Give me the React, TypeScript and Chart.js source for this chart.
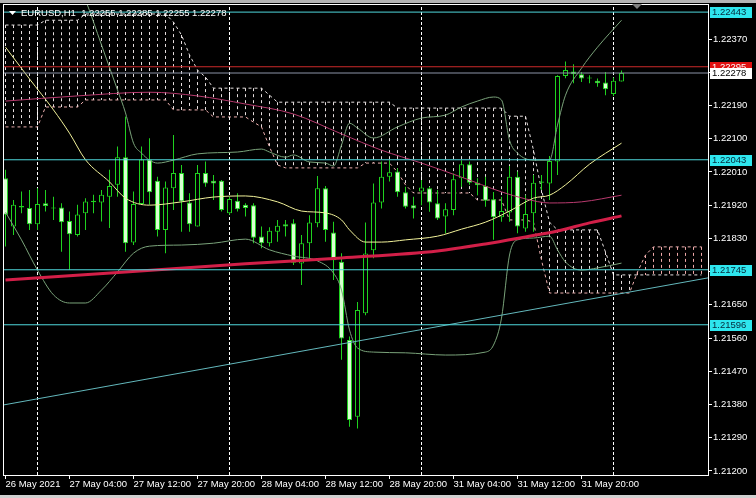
import React, { useEffect, useRef } from "react";
import { Chart, registerables } from "chart.js";

Chart.register(...registerables);

const FONT = "'Liberation Sans', Arial, sans-serif";

// ---- axes ----
// bar index 0 = 26 May 2021 20:00 (H1 bars)
const xTickIndex = [0, 8, 16, 24, 32, 40, 48, 56, 64, 72];
const xTickLabels = [
  "26 May 2021", "27 May 04:00", "27 May 12:00", "27 May 20:00", "28 May 04:00",
  "28 May 12:00", "28 May 20:00", "31 May 04:00", "31 May 12:00", "31 May 20:00",
];
const yTickValues = [
  1.212, 1.2129, 1.2138, 1.2147, 1.2156, 1.2165, 1.2174, 1.2183, 1.2192, 1.2201,
  1.221, 1.2219, 1.2228, 1.2237,
];
const X_MIN = -0.1875;
const X_MAX = 87.8125;
const Y_MIN = 1.21189;
const Y_MAX = 1.22465;

// ---- candles ----
const opens = [
  1.21993, 1.21862, 1.21914, 1.21912, 1.21868, 1.21925, 1.21914, 1.21914, 1.21877, 1.21839,
  1.21898, 1.21928, 1.21927, 1.21943, 1.21975, 1.2205, 1.21819, 1.21923, 1.22044, 1.21986,
  1.21853, 1.21966, 1.22007, 1.21927, 1.21862, 1.22007, 1.21986, 1.21986, 1.21898, 1.21932,
  1.21921, 1.2192, 1.21835, 1.21817, 1.21848, 1.21868, 1.21871, 1.21762, 1.21817, 1.21871,
  1.21966, 1.21846, 1.21767, 1.21555, 1.21347, 1.21627, 1.21798, 1.21927, 1.21997, 1.22011,
  1.21955, 1.2192, 1.21957, 1.21966, 1.21925, 1.21889, 1.21907, 1.21993, 1.22031, 1.21981,
  1.21972, 1.21936, 1.21887, 1.219, 1.21997, 1.21857, 1.21898, 1.21981, 1.21979, 1.22038,
  1.2227, 1.22282, 1.22275, 1.22264, 1.22257, 1.22252, 1.22221, 1.22255,
];
const highs = [
  1.22016, 1.21934, 1.21957, 1.21961, 1.21966, 1.21961, 1.21943, 1.21925, 1.21903, 1.21921,
  1.21939, 1.21948, 1.21961, 1.22016, 1.22079, 1.2216, 1.21957, 1.22079, 1.22101, 1.21997,
  1.21984, 1.2211, 1.22029, 1.21952, 1.22029, 1.22038, 1.22002, 1.21988, 1.21943, 1.21952,
  1.21925, 1.21925, 1.21862, 1.2186, 1.2188, 1.2188, 1.21882, 1.21839, 1.21893, 1.21999,
  1.21972, 1.21875, 1.2179, 1.21564, 1.21658, 1.21873, 1.21979, 1.22038, 1.22042, 1.2202,
  1.2197, 1.21943, 1.21988, 1.2197, 1.21961, 1.21925, 1.22006, 1.22042, 1.22038, 1.21993,
  1.21997, 1.21956, 1.21943, 1.22026, 1.22011, 1.21947, 1.22002, 1.22002, 1.22053, 1.22272,
  1.22309, 1.22302, 1.22281, 1.22272, 1.22263, 1.22281, 1.22266, 1.22285,
];
const lows = [
  1.21808, 1.21839, 1.21898, 1.21853, 1.21853, 1.21903, 1.2188, 1.21794, 1.21745, 1.21835,
  1.21853, 1.21898, 1.21876, 1.21858, 1.21943, 1.21794, 1.21812, 1.21921, 1.21921, 1.21835,
  1.2179, 1.21907, 1.21848, 1.21848, 1.21862, 1.2197, 1.21934, 1.21903, 1.21894, 1.21903,
  1.21889, 1.21817, 1.21803, 1.21808, 1.21821, 1.21835, 1.21758, 1.21704, 1.21771, 1.2186,
  1.21821, 1.21717, 1.21501, 1.2132, 1.21315, 1.21622, 1.21776, 1.21911, 1.21984, 1.21943,
  1.21911, 1.21884, 1.2192, 1.21902, 1.2188, 1.21844, 1.21893, 1.2197, 1.21975, 1.21947,
  1.21916, 1.21826, 1.21875, 1.21875, 1.21844, 1.21848, 1.21848, 1.21961, 1.21934, 1.22002,
  1.22264, 1.2225, 1.22254, 1.2225, 1.22241, 1.22218, 1.22216, 1.22255,
];
const closes = [
  1.21894, 1.21921, 1.21918, 1.21868, 1.21923, 1.21918, 1.21911, 1.21874, 1.21841, 1.21895,
  1.2193, 1.21932, 1.21948, 1.21972, 1.2205, 1.21817, 1.21923, 1.22044, 1.21955, 1.21853,
  1.21968, 1.22007, 1.2193, 1.21868, 1.22007, 1.21979, 1.21979, 1.21907, 1.21937, 1.21909,
  1.21912, 1.21832, 1.21817, 1.21851, 1.21864, 1.21862, 1.21764, 1.21817, 1.21873, 1.21966,
  1.21853, 1.21771, 1.21559, 1.21338, 1.21636, 1.21789, 1.21927, 1.21997, 1.22009, 1.21955,
  1.21916, 1.21911, 1.21968, 1.21927, 1.21884, 1.21909, 1.2199, 1.22031, 1.21981, 1.21974,
  1.21932, 1.21887, 1.21904, 1.21997, 1.21862, 1.21896, 1.21981, 1.21984, 1.2204, 1.2227,
  1.22286, 1.22275, 1.22263, 1.22263, 1.2225, 1.22234, 1.22257, 1.22278,
];

// ---- Bollinger bands (read at sample bars) ----
const bbUpperIdx = [0, 4, 8, 10, 12, 14, 15, 16, 17, 18, 19, 21, 24, 29, 32, 33, 35, 36, 38, 40, 41, 42, 43, 44, 46, 49, 52, 55, 57, 59, 61, 62, 63, 64, 66, 68, 69, 70, 72, 74, 77];
const bbUpperVal = [1.22795, 1.22692, 1.22576, 1.22476, 1.22354, 1.22232, 1.2217, 1.22088, 1.22061, 1.22042, 1.22034, 1.22042, 1.22059, 1.22064, 1.22072, 1.22064, 1.2205, 1.22056, 1.22037, 1.22034, 1.22026, 1.22083, 1.22142, 1.22129, 1.22102, 1.22132, 1.22156, 1.22164, 1.22186, 1.22202, 1.22213, 1.22205, 1.22096, 1.22061, 1.22042, 1.22042, 1.22137, 1.22218, 1.22291, 1.22348, 1.22421];
const bbLowerIdx = [0, 2, 4, 6, 8, 10, 12, 14, 16, 18, 22, 26, 30, 33, 36, 39, 41, 42, 43, 44, 46, 50, 55, 60, 61, 62, 63, 64, 66, 68, 69, 70, 72, 74, 77];
const bbLowerVal = [1.21901, 1.21826, 1.21744, 1.21677, 1.21655, 1.21655, 1.2169, 1.21739, 1.2179, 1.21809, 1.21812, 1.21817, 1.21828, 1.21799, 1.21782, 1.21769, 1.21736, 1.2169, 1.21582, 1.21533, 1.21522, 1.2152, 1.21514, 1.21522, 1.21541, 1.21614, 1.21785, 1.21826, 1.21831, 1.21836, 1.21799, 1.21766, 1.21744, 1.2175, 1.21763];
const bbMidIdx = [0, 3, 6, 8, 10, 13, 15, 18, 22, 26, 30, 34, 37, 40, 42, 43, 45, 47, 50, 54, 57, 60, 63, 66, 68, 70, 73, 77];
const bbMidVal = [1.22348, 1.22262, 1.22178, 1.22115, 1.22043, 1.21983, 1.21939, 1.2192, 1.21929, 1.21942, 1.21945, 1.21929, 1.21904, 1.21899, 1.2188, 1.21853, 1.2182, 1.2182, 1.21826, 1.21836, 1.21855, 1.21874, 1.21904, 1.21939, 1.21947, 1.21975, 1.22031, 1.22088];

// ---- moving averages ----
const maSlowIdx = [0, 9, 18, 24, 30, 36, 42, 47, 52, 57, 62, 65, 68, 72, 77];
const maSlowVal = [1.22202, 1.22216, 1.22226, 1.22216, 1.22194, 1.22167, 1.22113, 1.22069, 1.22034, 1.21996, 1.21956, 1.21937, 1.21926, 1.21929, 1.21947];
const maLongIdx = [0, 15, 30, 42, 54, 60, 65, 69, 73, 77];
const maLongVal = [1.21717, 1.21739, 1.21761, 1.21777, 1.21796, 1.21815, 1.21834, 1.2185, 1.21872, 1.21891];

// ---- Ichimoku cloud (Senkou spans, one value per bar incl. 26-bar forward shift) ----
const spanA = [
  1.22132, 1.22132, 1.22132, 1.22132, 1.22132, 1.22186, 1.22186, 1.22186, 1.22186, 1.22186,
  1.22205, 1.22205, 1.22205, 1.22205, 1.22205, 1.22205, 1.22205, 1.22205, 1.22205, 1.22205,
  1.22205, 1.22178, 1.22178, 1.22178, 1.22178, 1.22178, 1.22159, 1.22159, 1.22159, 1.22159,
  1.22159, 1.22145, 1.22132, 1.22078, 1.22029, 1.22021, 1.22021, 1.22021, 1.22021, 1.22021,
  1.22021, 1.22021, 1.22021, 1.22021, 1.22021, 1.22034, 1.22034, 1.22034, 1.22034, 1.2201,
  1.21975, 1.21953, 1.21953, 1.21953, 1.21953, 1.21953, 1.21953, 1.21953, 1.21953, 1.21934,
  1.21934, 1.21934, 1.21934, 1.2188, 1.2188, 1.2188, 1.21874, 1.21771, 1.21682, 1.21682,
  1.21682, 1.21682, 1.21682, 1.21682, 1.21682, 1.21682, 1.21682, 1.21682, 1.21682, 1.21739,
  1.21785, 1.21807, 1.21807, 1.21807, 1.21807, 1.21807, 1.21807, 1.21807,
];
const spanB = [
  1.22408, 1.22408, 1.22408, 1.22408, 1.22408, 1.22421, 1.22421, 1.22421, 1.22421, 1.22421,
  1.22438, 1.22438, 1.22438, 1.22438, 1.22438, 1.22438, 1.22438, 1.22438, 1.22438, 1.22438,
  1.22438, 1.22416, 1.22381, 1.22327, 1.22286, 1.22267, 1.22237, 1.22237, 1.22237, 1.22237,
  1.22237, 1.22237, 1.22237, 1.22218, 1.22199, 1.22199, 1.22199, 1.22199, 1.22199, 1.22199,
  1.22199, 1.22199, 1.22199, 1.22199, 1.22199, 1.22199, 1.22199, 1.22199, 1.22199, 1.22183,
  1.22183, 1.22183, 1.22183, 1.22183, 1.22183, 1.22183, 1.22183, 1.22183, 1.22183, 1.22183,
  1.22183, 1.22183, 1.22183, 1.22161, 1.22161, 1.22161, 1.22069, 1.21961, 1.21874, 1.21853,
  1.21853, 1.21853, 1.21853, 1.21853, 1.21853, 1.21793, 1.21731, 1.21731, 1.21731, 1.21731,
  1.21731, 1.21731, 1.21731, 1.21731, 1.21731, 1.21731, 1.21731, 1.21731,
];

// ---- objects ----
const separatorIdx = [4, 28, 52, 76];
const levelValues = [1.22443, 1.22043, 1.21745, 1.21596];
const redLevel = 1.22295;
const bidPrice = 1.22278;
const trendIdx = [X_MIN, X_MAX];
const trendVal = [1.21379, 1.21723];
const titleText = "EURUSD,H1  1.22255 1.22285 1.22255 1.22278";

// ---- colours ----
const CANDLE = "#1fd11f";
const BULL_FILL = "#000000";
const BEAR_FILL = "#d8ffd0";
const BB_COLOR = "#7aa37a";
const MID_COLOR = "#f2f29a";
const MA_SLOW_COLOR = "#b83a6e";
const MA_LONG_COLOR = "#d21f48";
const LEVEL_COLOR = "#4fd8dc";
const LEVEL_LABEL = "#2ee6ee";
const TREND_COLOR = "#63b8bc";
const RED_COLOR = "#cc2a2a";
const BID_COLOR = "#8c94a8";
const CLOUD_BEAR = "#e6dede";
const CLOUD_BULL = "#eea8a8";

const lineDs = (xs: number[], ys: number[], color: string, width: number, extra: any = {}) => ({
  type: "line",
  data: xs.map((x, k) => ({ x, y: ys[k] })),
  borderColor: color,
  backgroundColor: color,
  borderWidth: width,
  pointRadius: 0,
  fill: false,
  tension: 0,
  ...extra,
});

const mt4Plugin = {
  id: "mt4",
  beforeDatasetsDraw(chart: any) {
    const { ctx, chartArea: a, scales } = chart;
    const xs = scales.x;
    const ys = scales.y;
    ctx.save();
    ctx.beginPath();
    ctx.rect(a.left, a.top, a.right - a.left, a.bottom - a.top);
    ctx.clip();
    ctx.lineWidth = 1;
    ctx.setLineDash([3, 3]);
    for (let i = 0; i < spanA.length; i++) {
      const px = xs.getPixelForValue(i);
      const ya = ys.getPixelForValue(spanA[i]);
      const yb = ys.getPixelForValue(spanB[i]);
      ctx.strokeStyle = spanA[i] >= spanB[i] ? CLOUD_BULL : CLOUD_BEAR;
      ctx.beginPath();
      ctx.moveTo(px, Math.min(ya, yb));
      ctx.lineTo(px, Math.max(ya, yb));
      ctx.stroke();
    }
    ctx.restore();
  },
  afterDraw(chart: any) {
    const { ctx, scales } = chart;
    const ys = scales.y;
    ctx.save();
    // window bands
    ctx.fillStyle = "#b4b4b4";
    ctx.fillRect(0, 0, 756, 3);
    ctx.fillStyle = "#d0d0d0";
    ctx.fillRect(0, 495, 756, 3);
    // frame
    ctx.strokeStyle = "#ffffff";
    ctx.lineWidth = 1;
    ctx.setLineDash([]);
    ctx.strokeRect(3.5, 4.5, 705, 471);
    // price labels
    ctx.font = `9.5px ${FONT}`;
    ctx.textBaseline = "middle";
    ctx.textAlign = "left";
    const label = (v: number, bg: string, fg: string) => {
      const py = ys.getPixelForValue(v);
      ctx.fillStyle = bg;
      ctx.fillRect(710, Math.round(py) - 5, 42, 11);
      ctx.fillStyle = fg;
      ctx.fillText(v.toFixed(5), 712, py + 0.5);
    };
    levelValues.forEach((v) => label(v, LEVEL_LABEL, "#06283a"));
    label(redLevel, "#e01010", "#ffffff");
    label(bidPrice, "#ffffff", "#000000");
    // chart shift marker
    ctx.fillStyle = "#808080";
    ctx.beginPath();
    ctx.moveTo(632, 4);
    ctx.lineTo(642, 4);
    ctx.lineTo(637, 9);
    ctx.closePath();
    ctx.fill();
    // title
    ctx.fillStyle = "#ffffff";
    ctx.beginPath();
    ctx.moveTo(9, 11);
    ctx.lineTo(16, 11);
    ctx.lineTo(12.5, 15);
    ctx.closePath();
    ctx.fill();
    ctx.fillText(titleText, 21, 13);
    ctx.restore();
  },
};

export default function App() {
  const ref = useRef<HTMLCanvasElement>(null);
  useEffect(() => {
    document.body.style.margin = "0";
    document.body.style.background = "#000";
    const canvas = ref.current;
    if (!canvas) return;
    const idx = opens.map((_, i) => i);
    const wickData = idx.map((i) => ({ x: i, y: [lows[i], highs[i]] }));
    const bodyData = idx.map((i) => ({ x: i, y: [opens[i], closes[i]] }));
    const bodyFill = idx.map((i) => (closes[i] >= opens[i] ? BULL_FILL : BEAR_FILL));
    const smooth = { cubicInterpolationMode: "monotone" };

    const datasets: any[] = [
      // objects on top
      lineDs([X_MIN, X_MAX], [bidPrice, bidPrice], BID_COLOR, 1, { order: 1 }),
      lineDs([X_MIN, X_MAX], [redLevel, redLevel], RED_COLOR, 1, { order: 1 }),
      ...levelValues.map((v) => lineDs([X_MIN, X_MAX], [v, v], LEVEL_COLOR, 1, { order: 1 })),
      lineDs(trendIdx, trendVal, TREND_COLOR, 1, { order: 1 }),
      // indicators
      lineDs(maLongIdx, maLongVal, MA_LONG_COLOR, 3, { order: 2, ...smooth }),
      lineDs(maSlowIdx, maSlowVal, MA_SLOW_COLOR, 1, { order: 2, ...smooth }),
      lineDs(bbMidIdx, bbMidVal, MID_COLOR, 1, { order: 2, ...smooth }),
      lineDs(bbUpperIdx, bbUpperVal, BB_COLOR, 1, { order: 2, ...smooth }),
      lineDs(bbLowerIdx, bbLowerVal, BB_COLOR, 1, { order: 2, ...smooth }),
      // candles
      {
        type: "bar",
        data: bodyData,
        backgroundColor: bodyFill,
        borderColor: CANDLE,
        borderWidth: 1,
        borderSkipped: false,
        grouped: false,
        maxBarThickness: 5,
        minBarLength: 1,
        order: 3,
      },
      {
        type: "bar",
        data: wickData,
        backgroundColor: CANDLE,
        borderWidth: 0,
        grouped: false,
        maxBarThickness: 1,
        order: 4,
      },
      // period separators
      ...separatorIdx.map((s) =>
        lineDs([s, s], [Y_MIN, Y_MAX], "#ffffff", 1, { order: 5, borderDash: [3, 2] })
      ),
      // cloud borders
      lineDs(idx.concat([78, 79, 80, 81, 82, 83, 84, 85, 86, 87]), spanB, "#e6e0e0", 1, { order: 6, borderDash: [3, 3] }),
      lineDs(idx.concat([78, 79, 80, 81, 82, 83, 84, 85, 86, 87]), spanA, "#eeb0b0", 1, { order: 6, borderDash: [3, 3] }),
    ];

    Chart.defaults.font.family = FONT;
    Chart.defaults.font.size = 9.5;
    Chart.defaults.color = "#ffffff";

    const chart = new Chart(canvas, {
      type: "bar",
      data: { datasets },
      options: {
        animation: false,
        responsive: false,
        maintainAspectRatio: false,
        devicePixelRatio: 1,
        events: [],
        layout: { padding: { left: 4, top: 4, right: 0, bottom: 0 } },
        plugins: { legend: { display: false }, tooltip: { enabled: false } },
        scales: {
          x: {
            type: "linear",
            min: X_MIN,
            max: X_MAX,
            offset: false,
            afterBuildTicks: (s: any) => {
              s.ticks = xTickIndex.map((v) => ({ value: v }));
            },
            afterFit: (s: any) => {
              s.height = 23;
              s.paddingLeft = 0;
              s.paddingRight = 0;
            },
            grid: { drawOnChartArea: false, drawTicks: true, tickLength: 4, color: "#ffffff", offset: false },
            border: { display: false },
            ticks: {
              color: "#ffffff",
              align: "start",
              maxRotation: 0,
              minRotation: 0,
              autoSkip: false,
              padding: 0,
              font: { size: 9.5, family: FONT },
              callback: (v: any) => {
                const k = xTickIndex.indexOf(Math.round(Number(v)));
                return k >= 0 ? xTickLabels[k] : "";
              },
            },
          },
          y: {
            type: "linear",
            position: "right",
            min: Y_MIN,
            max: Y_MAX,
            afterBuildTicks: (s: any) => {
              s.ticks = yTickValues.map((v) => ({ value: v }));
            },
            afterFit: (s: any) => {
              s.width = 48;
              s.paddingTop = 0;
              s.paddingBottom = 0;
            },
            grid: { drawOnChartArea: false, drawTicks: true, tickLength: 4, color: "#ffffff" },
            border: { display: false },
            ticks: {
              color: "#ffffff",
              padding: 1,
              font: { size: 9.5, family: FONT },
              callback: (v: any) => Number(v).toFixed(5),
            },
          },
        },
      } as any,
      plugins: [mt4Plugin],
    } as any);
    return () => chart.destroy();
  }, []);

  return (
    <div style={{ position: "relative", width: 756, height: 498, background: "#000" }}>
      <canvas ref={ref} width={756} height={498} style={{ display: "block", width: 756, height: 498 }} />
    </div>
  );
}
